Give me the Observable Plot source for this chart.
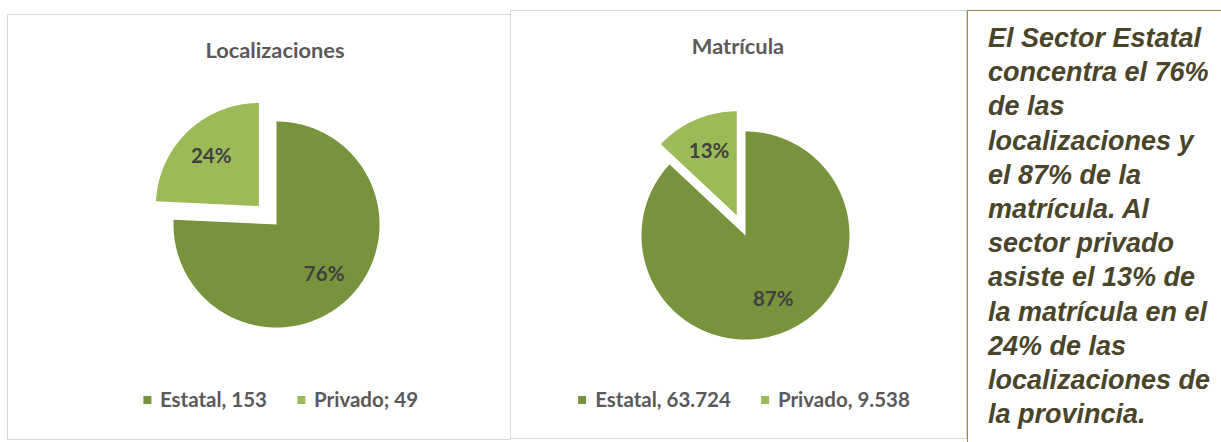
<!DOCTYPE html>
<html><head><meta charset="utf-8">
<script src="https://cdn.jsdelivr.net/npm/d3@7"></script>
<script src="https://cdn.jsdelivr.net/npm/@observablehq/plot@0.6"></script>
<style>
html,body{margin:0;padding:0;background:#fff;}
body{width:1221px;height:442px;overflow:hidden;position:relative;font-family:Lato,"Open Sans",sans-serif;}
.panel{position:absolute;border:1px solid #d9d9d9;box-sizing:border-box;}
.title{position:absolute;font-weight:700;font-size:21.8px;color:#595959;transform:translateX(-50%);white-space:nowrap;line-height:1;}
.legend{position:absolute;display:flex;align-items:center;transform:translateX(-50%);white-space:nowrap;font-weight:700;font-size:20.5px;color:#595959;line-height:1;}
.legend .item{display:flex;align-items:center;margin-right:30px;}
.legend .item:last-child{margin-right:0;}
.legend .sw{display:inline-block;width:8px;height:8px;margin-right:9px;margin-top:2px;}
.chart{position:absolute;}
#note{position:absolute;left:967px;top:10px;width:300px;height:460px;border:1px solid #948a54;box-sizing:border-box;padding-left:20px;padding-top:10px;font-family:"Liberation Sans",Arial,sans-serif;font-weight:bold;font-style:italic;font-size:27px;line-height:34.2px;color:#4a452a;white-space:nowrap;}
</style></head>
<body>
<div class="panel" style="left:7px;top:14px;width:504px;height:426px;"></div>
<div class="panel" style="left:510px;top:10px;width:457px;height:429px;"></div>
<div id="note"></div>
<script>
// ---- data ----
const sliceNames = ["Estatal", "Privado"];
const localizaciones = [153, 49];
const matricula = [63724, 9538];
const legendLocalizaciones = ["Estatal, 153", "Privado; 49"];
const legendMatricula = ["Estatal, 63.724", "Privado, 9.538"];
const chartTitles = ["Localizaciones", "Matrícula"];
const noteLines = [
  "El Sector Estatal", "concentra el 76%", "de las", "localizaciones y",
  "el 87% de la", "matrícula. Al", "sector privado", "asiste el 13% de",
  "la matrícula en el", "24% de las", "localizaciones de", "la provincia."
];
const sliceColors = ["#77933C", "#9BBB59"];

// ---- layout / style config ----
const charts = [
  {values: localizaciones, legend: legendLocalizaciones, title: chartTitles[0],
   cx: 276, cy: 224, r: 103, explode: 25.5, titleX: 275, titleTop: 38.7, legendX: 280.5},
  {values: matricula, legend: legendMatricula, title: chartTitles[1],
   cx: 745, cy: 235, r: 104, explode: 22, titleX: 738, titleTop: 34.7, legendX: 744}
];
const labelR = 0.67;
const SIZE = 300;

function pieData(values, explodeUnits) {
  const total = d3.sum(values);
  const arcs = d3.pie().sort(null).value(d => d)(values);
  const pts = [], labels = [];
  arcs.forEach((p, i) => {
    const mid = (p.startAngle + p.endAngle) / 2;
    const off = sliceNames[i] === "Privado" ? explodeUnits : 0;
    const ox = Math.sin(mid) * off, oy = Math.cos(mid) * off;
    const n = Math.max(2, Math.ceil((p.endAngle - p.startAngle) / (Math.PI / 360)));
    pts.push({k: sliceNames[i], x: ox, y: oy});
    for (let j = 0; j <= n; j++) {
      const a = p.startAngle + (p.endAngle - p.startAngle) * j / n;
      pts.push({k: sliceNames[i], x: ox + Math.sin(a), y: oy + Math.cos(a)});
    }
    pts.push({k: sliceNames[i], x: ox, y: oy});
    labels.push({x: ox + Math.sin(mid) * labelR, y: oy + Math.cos(mid) * labelR,
                 t: Math.round(p.value / total * 100) + "%"});
  });
  return {pts, labels};
}

charts.forEach(c => {
  const h = (SIZE / 2) / c.r;
  const {pts, labels} = pieData(c.values, c.explode / c.r);
  const svg = Plot.plot({
    width: SIZE, height: SIZE, margin: 0,
    x: {domain: [-h, h], axis: null},
    y: {domain: [-h, h], axis: null},
    color: {domain: sliceNames, range: sliceColors},
    style: {background: "transparent", overflow: "visible"},
    marks: [
      Plot.line(pts, {x: "x", y: "y", z: "k", fill: "k", stroke: "none"}),
      Plot.text(labels, {x: "x", y: "y", text: "t", fill: "#404040",
        fontSize: 20.5, fontWeight: "bold", fontFamily: "Lato, 'Open Sans', sans-serif"})
    ]
  });
  svg.classList.add("chart");
  svg.style.left = (c.cx - SIZE / 2) + "px";
  svg.style.top = (c.cy - SIZE / 2) + "px";
  svg.style.position = "absolute";
  document.body.appendChild(svg);

  const t = document.createElement("div");
  t.className = "title";
  t.textContent = c.title;
  t.style.left = c.titleX + "px";
  t.style.top = c.titleTop + "px";
  document.body.appendChild(t);

  const lg = document.createElement("div");
  lg.className = "legend";
  lg.style.left = c.legendX + "px";
  lg.style.top = "389px";
  c.legend.forEach((txt, i) => {
    const it = document.createElement("span");
    it.className = "item";
    const sw = document.createElement("span");
    sw.className = "sw";
    sw.style.background = sliceColors[i];
    it.appendChild(sw);
    it.appendChild(document.createTextNode(txt));
    lg.appendChild(it);
  });
  document.body.appendChild(lg);
});

const note = document.getElementById("note");
noteLines.forEach((l, i) => {
  if (i) note.appendChild(document.createElement("br"));
  note.appendChild(document.createTextNode(l));
});
</script>
</body></html>
